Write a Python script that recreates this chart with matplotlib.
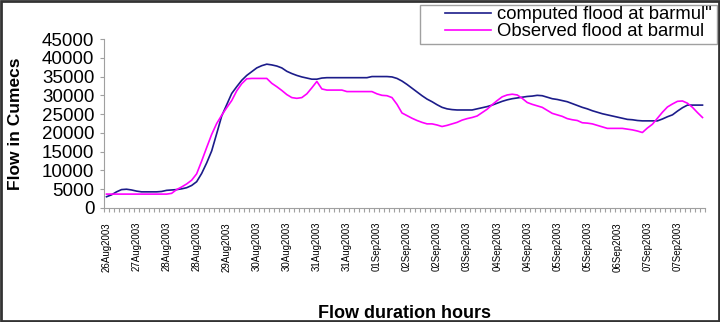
import numpy as np
import matplotlib
matplotlib.use("Agg")
import matplotlib.pyplot as plt
from matplotlib.patches import Rectangle

plt.rcParams["font.family"] = ["Liberation Sans", "DejaVu Sans"]

# ---------------------------------------------------------------------------
# Data (one value per category)
# ---------------------------------------------------------------------------
computed = [
    3000, 3500, 4300, 4900, 5000, 4800, 4500, 4300, 4300, 4300,
    4300, 4400, 4700, 4800, 4900, 5100, 5400, 6000, 7000, 9200,
    12000, 15200, 19800, 24500, 27500, 30500, 32300, 34000, 35300, 36300,
    37300, 37900, 38300, 38100, 37800, 37300, 36400, 35800, 35300, 34900,
    34600, 34300, 34300, 34600, 34700, 34700, 34700, 34700, 34700, 34700,
    34700, 34700, 34700, 35000, 35000, 35000, 35000, 34900, 34500, 33800,
    32900, 31900, 30900, 29900, 29000, 28300, 27500, 26800, 26400, 26200,
    26100, 26100, 26100, 26100, 26400, 26700, 27000, 27400, 27900, 28400,
    28800, 29100, 29300, 29500, 29700, 29800, 30000, 29900, 29500, 29100,
    28900, 28600, 28300, 27800, 27300, 26800, 26400, 25900, 25500, 25100,
    24800, 24500, 24200, 23900, 23600, 23500, 23300, 23200, 23200, 23200,
    23200, 23700, 24300, 24800, 25800, 26700, 27400, 27400, 27400, 27400,
]
observed = [
    3700, 3700, 3700, 3700, 3700, 3700, 3700, 3700, 3700, 3700,
    3700, 3700, 3700, 3900, 4900, 5600, 6400, 7400, 9100, 12500,
    16100, 19600, 22500, 24700, 26700, 28600, 31200, 33100, 34400, 34500,
    34500, 34500, 34500, 33200, 32300, 31300, 30200, 29400, 29200, 29400,
    30400, 32000, 33700, 31700, 31400, 31400, 31400, 31400, 31000, 31000,
    31000, 31000, 31000, 31000, 30400, 30000, 29900, 29400, 27600, 25300,
    24600, 23900, 23300, 22800, 22400, 22400, 22100, 21700, 22000, 22400,
    22800, 23400, 23800, 24100, 24500, 25400, 26300, 27500, 28600, 29600,
    30100, 30300, 30100, 29200, 28100, 27600, 27200, 26800, 26000, 25200,
    24800, 24400, 23800, 23500, 23300, 22700, 22600, 22400, 22000, 21600,
    21200, 21200, 21200, 21200, 21000, 20800, 20500, 20100, 21300, 22300,
    23900, 25500, 26900, 27700, 28400, 28500, 27900, 26800, 25400, 24100,
]
date_labels = [
    "26Aug2003", "27Aug2003", "28Aug2003", "28Aug2003", "29Aug2003",
    "30Aug2003", "30Aug2003", "31Aug2003", "31Aug2003", "01Sep2003",
    "02Sep2003", "02Sep2003", "03Sep2003", "04Sep2003", "04Sep2003",
    "05Sep2003", "05Sep2003", "06Sep2003", "07Sep2003", "07Sep2003",
]
label_step = 6
y_ticks = [0, 5000, 10000, 15000, 20000, 25000, 30000, 35000, 40000, 45000]

# ---------------------------------------------------------------------------
# Figure
# ---------------------------------------------------------------------------
W, H = 720, 322
fig = plt.figure(figsize=(W / 100, H / 100), dpi=100)
ax = fig.add_axes([104 / W, 1 - 208 / H, 601 / W, 169 / H])

x = np.arange(len(computed))
ax.plot(x, computed, color="#1c1c8a", lw=1.2, label='computed flood at barmul"')
ax.plot(x, observed, color="#ff00ff", lw=1.2, label="Observed flood at barmul")

ax.set_xlim(-0.5, len(computed) - 0.5)
ax.set_ylim(0, 45000)

# category labels at centres, tick marks at category boundaries
ax.set_xticks(np.arange(0, len(computed), label_step))
ax.set_xticklabels(date_labels, rotation=90, fontsize=7)
ax.set_xticks(np.arange(-0.5, len(computed), 1), minor=True)
ax.tick_params(axis="x", which="major", length=0, pad=10)
ax.tick_params(axis="x", which="minor", length=3, color="#a0a0a0", width=0.8)

ax.set_yticks(y_ticks)
ax.set_yticklabels([str(v) for v in y_ticks], fontsize=13.5)
ax.tick_params(axis="y", length=3, color="#a0a0a0", width=0.8, pad=4)

for side in ("top", "right"):
    ax.spines[side].set_visible(False)
for side in ("left", "bottom"):
    ax.spines[side].set_color("#a0a0a0")
    ax.spines[side].set_linewidth(0.8)

fig.text(16 / W, 1 - 124 / H, "Flow in Cumecs", fontsize=12.5, fontweight="bold",
         rotation=90, ha="center", va="center")
fig.text(404 / W, 1 - 313 / H, "Flow duration hours", fontsize=13, fontweight="bold",
         ha="center", va="center")

# legend without its own frame; the box is drawn separately
fig.legend(loc="upper left", bbox_to_anchor=(445 / W, 1 - 6 / H), fontsize=13.3,
           frameon=False, borderpad=0, labelspacing=0.0, handlelength=2.5,
           handletextpad=0.3, borderaxespad=0)
fig.patches.append(Rectangle((420 / W, 1 - 44 / H), 297 / W, 39 / H,
                             transform=fig.transFigure, fill=False,
                             edgecolor="#a0a0a0", lw=1))

# outer frame around the whole picture
fig.patches.append(Rectangle((0.002, 0.004), 0.996, 0.992, transform=fig.transFigure,
                             fill=False, edgecolor="#333333", lw=2))

fig.savefig("out.png", dpi=100)
